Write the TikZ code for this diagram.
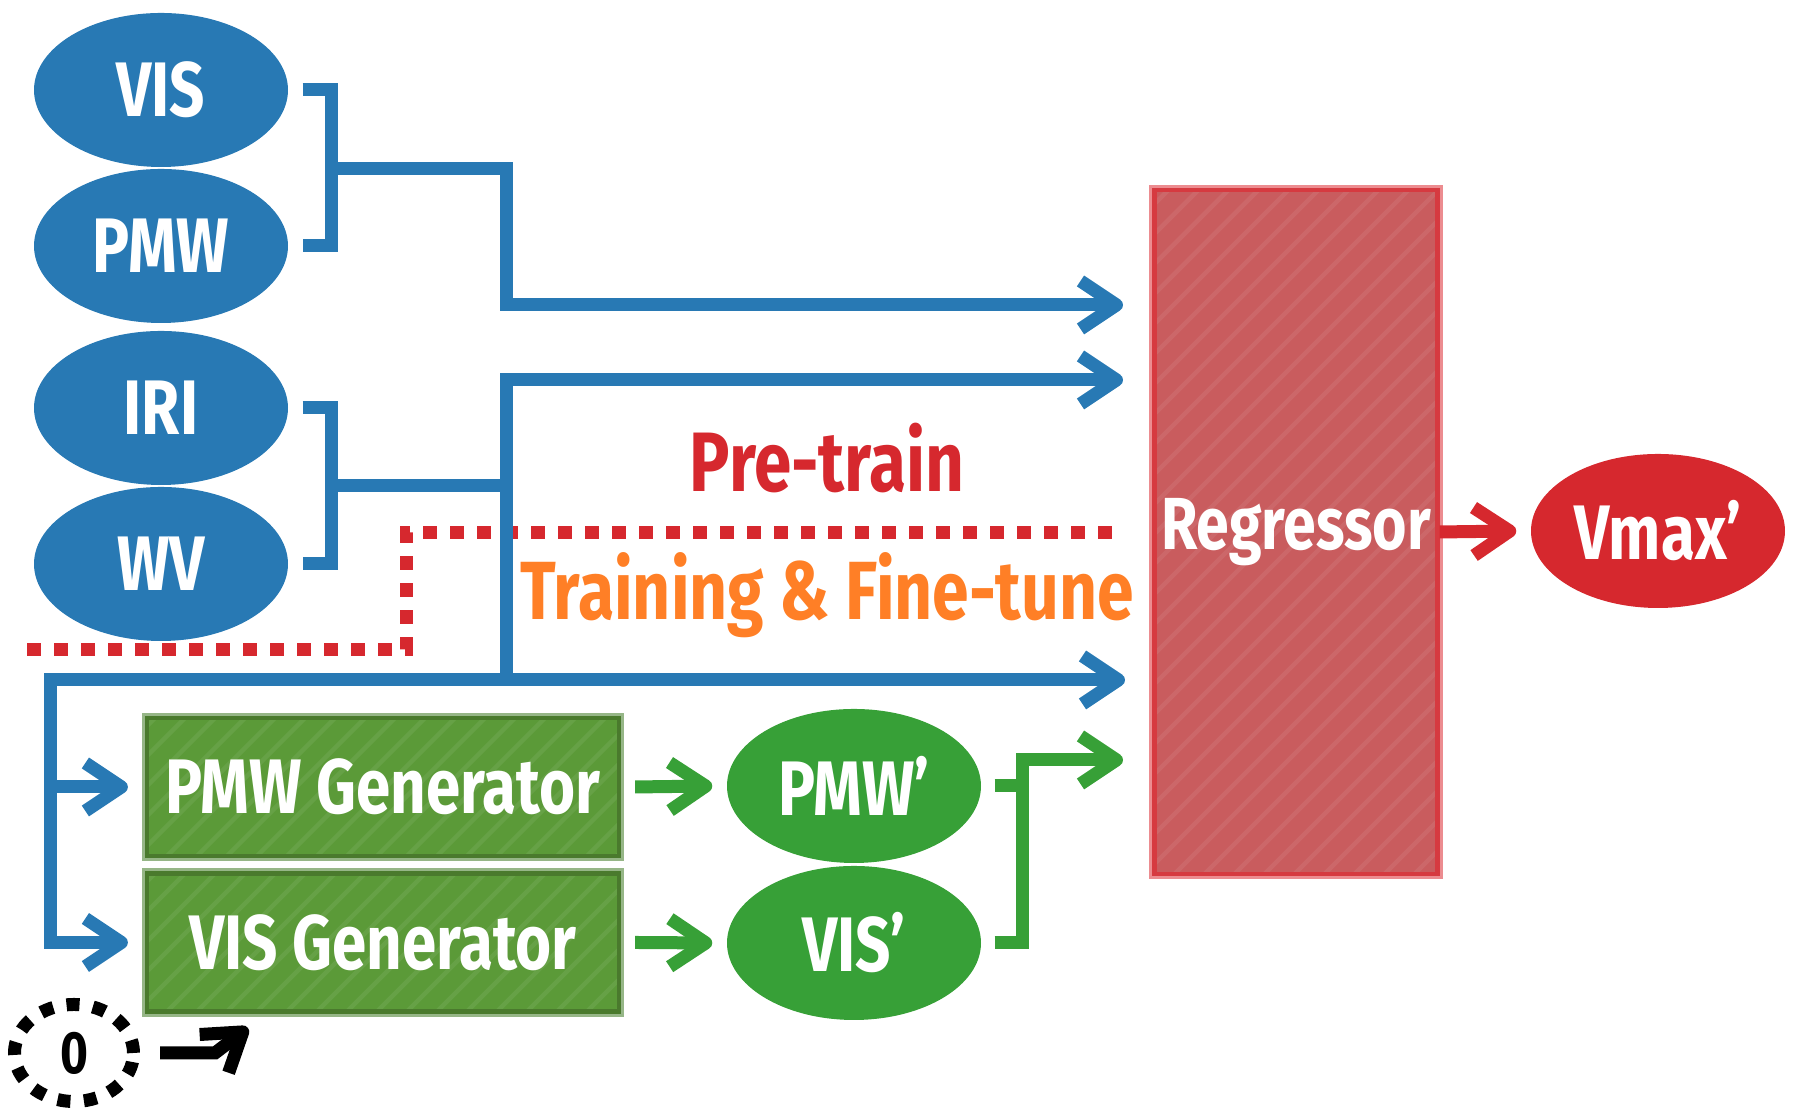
\documentclass[tikz,border=0pt]{standalone}
\usepackage{fontspec}
\newfontfamily\hand[FakeStretch=0.8]{Fira Sans}
\usepackage{tikz}
\usetikzlibrary{arrows.meta, shapes.geometric}

\definecolor{tblue}{RGB}{40,121,180}
\definecolor{tgreen}{RGB}{55,160,55}
\definecolor{tred}{RGB}{214,40,46}
\definecolor{torange}{RGB}{255,127,38}
\definecolor{genfill}{RGB}{91,154,56}
\definecolor{genedge}{RGB}{74,122,45}
\definecolor{genhalo}{RGB}{150,182,135}
\definecolor{regfill}{RGB}{201,92,94}
\definecolor{regedge}{RGB}{214,58,64}
\definecolor{reghalo}{RGB}{236,140,144}

\tikzset{
  handfont/.style={font=\hand\bfseries\fontsize{#1}{#1}\selectfont},
  blob/.style={ellipse, inner sep=0pt, minimum width=2.54cm, minimum height=1.54cm, text=white, handfont=22},
  streaks/.style={path picture={
    \foreach \k in {-7,-6.7,...,5}
      \draw[white, opacity=0.07, line width=1.3pt] ([xshift=\k cm]path picture bounding box.south west) -- ++(8,8);
  }},
  genbox/.style={rectangle, inner sep=0pt, minimum width=4.72cm, minimum height=1.38cm, fill=genfill, draw=genedge, line width=1.2pt, preaction={draw=genhalo, line width=3pt}, streaks, text=white, handfont=22},
  regbox/.style={rectangle, inner sep=0pt, minimum width=2.83cm, minimum height=6.84cm, fill=regfill, draw=regedge, line width=1.2pt, preaction={draw=reghalo, line width=3pt}, streaks, text=white, handfont=21},
  wire/.style={line width=0.13cm},
  conn/.style={wire, -{Straight Barb[length=0.36cm, width=0.48cm, line join=round]}},
  reddots/.style={tred, line width=0.13cm, dash pattern=on 0.14cm off 0.13cm}
}

\begin{document}
\begin{tikzpicture}
  \useasboundingbox (0,0) rectangle (17.94,11.18);

  \node[blob, fill=tblue] (vis) at (1.61,10.28) {VIS};
  \node[blob, fill=tblue] (pmw) at (1.61,8.72) {PMW};
  \node[blob, fill=tblue] (iri) at (1.61,7.10) {IRI};
  \node[blob, fill=tblue] (wv) at (1.61,5.54) {WV};

  \node[regbox] (reg) at (12.96,5.86) {Regressor};
  \node[blob, fill=tred] (vmax) at (16.58,5.87) {Vmax’};

  \node[genbox] (pmwgen) at (3.83,3.31) {PMW Generator};
  \node[genbox] (visgen) at (3.83,1.755) {VIS Generator};
  \node[blob, fill=tgreen] (pmwp) at (8.54,3.32) {PMW’};
  \node[blob, fill=tgreen] (visp) at (8.54,1.75) {VIS’};

  \node[ellipse, draw, line width=0.13cm, dash pattern=on 0.13cm off 0.135cm, minimum width=1.19cm, minimum height=0.97cm, inner sep=0pt, handfont=17] (zero) at (0.74,0.65) {0};
  \coordinate (zerotip) at (2.48,0.90);

  \node[text=tred, handfont=24, anchor=base] (pretrain) at (8.27,6.26) {Pre-train};
  \node[text=torange, handfont=23.5, anchor=base] (finetune) at (8.27,4.98) {Training \& Fine-tune};

  \coordinate (j1) at (3.31,9.49);
  \coordinate (k1) at (5.06,8.13);
  \coordinate (j2) at (3.31,6.32);
  \coordinate (k2) at (5.06,6.32);
  \coordinate (k3) at (5.06,4.38);
  \coordinate (c0) at (0.51,4.38);
  \coordinate (g1) at (10.22,3.58);
  \coordinate (t1) at (11.23,8.13);
  \coordinate (t2) at (11.23,7.38);
  \coordinate (t3) at (11.25,4.38);
  \coordinate (t4) at (11.23,3.58);

  \draw[reddots] (0.27,4.68) -| (4.06,5.85) -- (11.23,5.85);

  \draw[wire, tblue] ([xshift=0.14cm]vis.east) -| (j1) |- ([xshift=0.14cm]pmw.east);
  \draw[conn, tblue] (j1) -| (k1) -- (t1);
  \draw[wire, tblue] ([xshift=0.14cm]iri.east) -| (j2) |- ([xshift=0.14cm]wv.east);
  \draw[wire, tblue] (j2) -- (k2);
  \draw[conn, tblue] (k3) |- (t2);
  \draw[conn, tblue] ([xshift=-0.065cm]c0) -- (t3);
  \draw[conn, tblue] (c0) |- ([xshift=-0.17cm]pmwgen.west);
  \draw[conn, tblue] (c0) |- ([xshift=-0.17cm]visgen.west);

  \draw[conn, tgreen] ([xshift=0.14cm]pmwgen.east) -- ([xshift=-0.14cm]pmwp.west);
  \draw[conn, tgreen] ([xshift=0.14cm]visgen.east) -- ([xshift=-0.14cm]visp.west);
  \draw[conn, tgreen] ([xshift=0.13cm]visp.east) -| (g1) -- (t4);
  \draw[wire, tgreen] ([xshift=0.13cm]pmwp.east) -- (pmwp.east -| g1);

  \draw[conn, tred] (reg.east) -- ([xshift=-0.14cm]vmax.west);

  \draw[conn] ([xshift=0.2cm]zero.east) -- ++(0.55,0) -- (zerotip);
\end{tikzpicture}
\end{document}
